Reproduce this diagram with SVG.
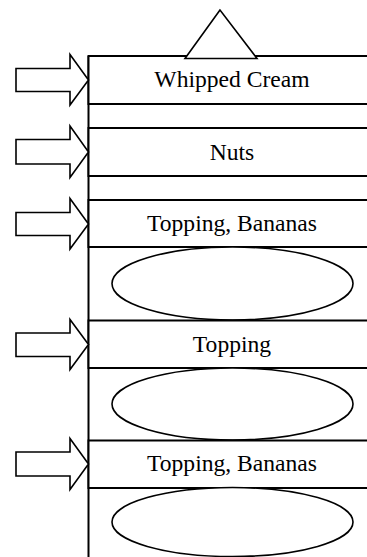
<svg xmlns="http://www.w3.org/2000/svg" width="367" height="557" viewBox="0 0 367 557">
<style>
.band{fill:#fff;stroke:#000;stroke-width:2}
.ell{fill:#fff;stroke:#000;stroke-width:1.6}
.arr{fill:#fff;stroke:#000;stroke-width:1.6;stroke-linejoin:miter}
.lbl{font-family:"Liberation Serif","Times New Roman",serif;font-size:23.6px;text-anchor:middle;fill:#000}
</style>
<rect width="367" height="557" fill="#fff"/>
<g id="stack">
<line x1="88.5" y1="56" x2="88.5" y2="557" stroke="#000" stroke-width="2"/>
</g>
<g id="band-whipped-cream">
<rect class="band" x="88.5" y="56" width="300" height="48"/>
<text class="lbl" x="232" y="87">Whipped Cream</text>
</g>
<g id="band-nuts">
<rect class="band" x="88.5" y="128" width="300" height="48"/>
<text class="lbl" x="232" y="159.5">Nuts</text>
</g>
<g id="band-topping-bananas-1">
<rect class="band" x="88.5" y="200" width="300" height="47"/>
<text class="lbl" x="232" y="231">Topping, Bananas</text>
</g>
<g id="scoop-1">
<ellipse class="ell" cx="232.5" cy="283.5" rx="120.5" ry="36.5"/>
</g>
<g id="band-topping">
<rect class="band" x="88.5" y="320.5" width="300" height="47.5"/>
<text class="lbl" x="232" y="351.5">Topping</text>
</g>
<g id="scoop-2">
<ellipse class="ell" cx="232.5" cy="404" rx="120.5" ry="36"/>
</g>
<g id="band-topping-bananas-2">
<rect class="band" x="88.5" y="440.5" width="300" height="47.5"/>
<text class="lbl" x="232" y="471">Topping, Bananas</text>
</g>
<g id="scoop-3">
<ellipse class="ell" cx="232.5" cy="522" rx="120.5" ry="34.5"/>
</g>
<g id="cherry">
<polygon class="arr" points="220,10 185,58.5 257,58.5"/>
</g>
<g id="connectors">
<polygon class="arr" points="16,68.5 70,68.5 70,54.5 88.5,80 70,105 70,91.5 16,91.5"/>
<polygon class="arr" points="16,139.5 70,139.5 70,126 88.5,152 70,177.5 70,164 16,164"/>
<polygon class="arr" points="16,212.5 70,212.5 70,198.5 88.5,224 70,249 70,235.5 16,235.5"/>
<polygon class="arr" points="16,333 70,333 70,319.5 88.5,344.5 70,369.5 70,356.5 16,356.5"/>
<polygon class="arr" points="16,452 70,452 70,438.5 88.5,464 70,489.5 70,476 16,476"/>
</g>
</svg>
